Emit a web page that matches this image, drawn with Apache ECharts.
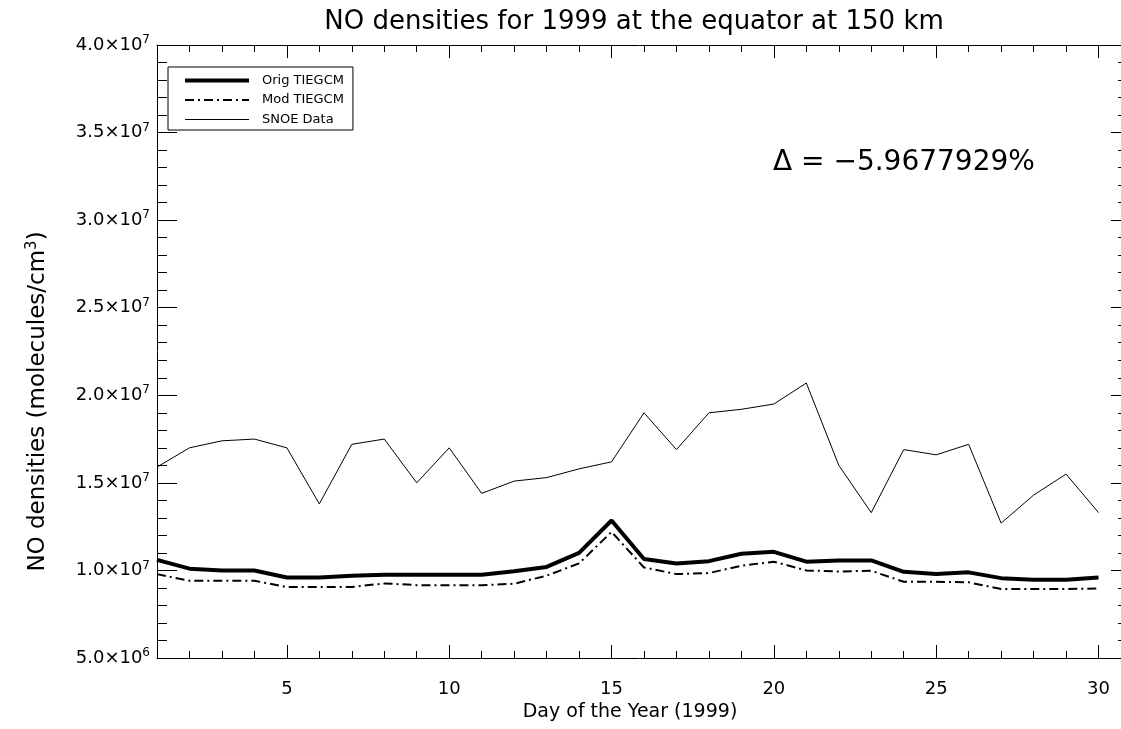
<!DOCTYPE html>
<html lang="en">
<head>
    <meta charset="UTF-8">
    <script src="https://cdn.jsdelivr.net/npm/echarts@6/dist/echarts.min.js"></script>
    <title>NO densities 1999</title>
    <style>
        html, body { margin: 0; padding: 0; background: #fff; }
        #main { width: 1121px; height: 729px; }
    </style>
</head>
<body>
<div id="main"></div>
<script type="text/javascript">
    // days of the year 1999
    var days = [1, 2, 3, 4, 5, 6, 7, 8, 9, 10, 11, 12, 13, 14, 15,
        16, 17, 18, 19, 20, 21, 22, 23, 24, 25, 26, 27, 28, 29, 30];
    // NO densities, molecules/cm^3
    var origTiegcm = [1.06e7, 1.01e7, 1.00e7, 1.00e7, 9.6e6, 9.6e6, 9.7e6, 9.75e6, 9.75e6, 9.75e6,
        9.75e6, 9.95e6, 1.02e7, 1.10e7, 1.285e7, 1.065e7, 1.04e7, 1.053e7, 1.095e7, 1.106e7,
        1.05e7, 1.057e7, 1.057e7, 9.92e6, 9.79e6, 9.89e6, 9.56e6, 9.47e6, 9.47e6, 9.6e6];
    var modTiegcm = [9.79e6, 9.41e6, 9.41e6, 9.41e6, 9.05e6, 9.05e6, 9.05e6, 9.26e6, 9.16e6, 9.16e6,
        9.16e6, 9.24e6, 9.7e6, 1.04e7, 1.22e7, 1.017e7, 9.79e6, 9.85e6, 1.027e7, 1.05e7,
        1.0e7, 9.94e6, 9.98e6, 9.35e6, 9.35e6, 9.32e6, 8.94e6, 8.94e6, 8.94e6, 8.97e6];
    var snoeData = [1.59e7, 1.70e7, 1.74e7, 1.75e7, 1.70e7, 1.38e7, 1.72e7, 1.75e7, 1.50e7, 1.70e7,
        1.44e7, 1.51e7, 1.53e7, 1.58e7, 1.62e7, 1.90e7, 1.69e7, 1.90e7, 1.92e7, 1.95e7,
        2.07e7, 1.60e7, 1.33e7, 1.69e7, 1.66e7, 1.72e7, 1.27e7, 1.43e7, 1.55e7, 1.33e7];
    var xLabelTicks = [5, 10, 15, 20, 25, 30];
    var seriesNames = ['Orig TIEGCM', 'Mod TIEGCM', 'SNOE Data'];

    var font = 'DejaVu Sans';

    function pairs(ys) {
        return days.map(function (d, i) { return [d, ys[i]]; });
    }

    function sciLabel(v) {
        var e = Math.floor(Math.log10(v) + 1e-9);
        var m = (v / Math.pow(10, e)).toFixed(1);
        return '{m|' + m + '×10}{e|' + e + '}';
    }

    var myChart = echarts.init(document.getElementById('main'), null, {renderer: 'canvas'});

    // plot frame runs past the right edge of the picture
    var gridBox = {left: 157, top: 45, width: 974, bottom: 71, outerBoundsMode: 'none', containLabel: false};
    var xMin = 1, xMax = 31;

    var option = {
        animation: false,
        backgroundColor: '#fff',
        title: {
            text: 'NO densities for 1999 at the equator at 150 km',
            left: 629,
            textAlign: 'center',
            top: 4,
            textStyle: {fontFamily: font, fontSize: 26, fontWeight: 'normal', color: '#000'}
        },
        legend: {
            data: seriesNames,
            orient: 'vertical',
            left: 168,
            top: 67,
            itemWidth: 64,
            itemHeight: 14,
            itemGap: 6.5,
            padding: [7, 9, 4, 15],
            borderColor: '#000',
            borderWidth: 1,
            itemStyle: {opacity: 0},
            lineStyle: {width: 'inherit'},
            textStyle: {fontFamily: font, fontSize: 13, color: '#000', padding: [0, 0, 0, 8]}
        },
        graphic: [{
            type: 'text',
            left: 773,
            top: 149,
            style: {text: 'Δ = −5.9677929%', font: '28px "DejaVu Sans"', fill: '#000'}
        }],
        grid: [
            Object.assign({}, gridBox),
            Object.assign({}, gridBox)
        ],
        xAxis: [{
            // bottom, major ticks and labels
            type: 'value', gridIndex: 0, position: 'bottom', min: xMin, max: xMax,
            name: 'Day of the Year (1999)', nameLocation: 'middle', nameGap: 44,
            nameTextStyle: {fontFamily: font, fontSize: 19, color: '#000', padding: [0, 28, 0, 0]},
            axisLine: {lineStyle: {color: '#000', width: 1}},
            axisTick: {inside: true, length: 13, customValues: xLabelTicks, lineStyle: {color: '#000'}},
            axisLabel: {customValues: xLabelTicks, margin: 22, fontFamily: font, fontSize: 18, color: '#000'},
            splitLine: {show: false}
        }, {
            type: 'value', gridIndex: 0, position: 'top', min: xMin, max: xMax,
            axisLine: {lineStyle: {color: '#000', width: 1}},
            axisTick: {inside: true, length: 13, customValues: xLabelTicks, lineStyle: {color: '#000'}},
            axisLabel: {show: false},
            splitLine: {show: false}
        }, {
            // minor day ticks
            type: 'value', gridIndex: 1, position: 'bottom', min: xMin, max: xMax, interval: 1,
            axisLine: {show: false},
            axisTick: {inside: true, length: 7, lineStyle: {color: '#000'}},
            axisLabel: {show: false},
            splitLine: {show: false}
        }, {
            type: 'value', gridIndex: 1, position: 'top', min: xMin, max: xMax, interval: 1,
            axisLine: {show: false},
            axisTick: {inside: true, length: 7, lineStyle: {color: '#000'}},
            axisLabel: {show: false},
            splitLine: {show: false}
        }],
        yAxis: [{
            type: 'value', gridIndex: 0, position: 'left', min: 5e6, max: 4e7, interval: 5e6,
            name: '{n|NO densities (molecules/cm}{s|3}{n|)}',
            nameLocation: 'middle', nameRotate: 90, nameGap: 105,
            nameTextStyle: {
                padding: [0, 100, 0, 0],
                rich: {
                    n: {fontFamily: font, fontSize: 23, color: '#000'},
                    s: {fontFamily: font, fontSize: 15, color: '#000', verticalAlign: 'top', padding: [0, 0, 12, 0]}
                }
            },
            axisLine: {lineStyle: {color: '#000', width: 1}},
            axisTick: {inside: true, length: 20, lineStyle: {color: '#000'}},
            minorTick: {show: true, splitNumber: 5, length: 10, lineStyle: {color: '#000'}},
            axisLabel: {
                margin: 7,
                formatter: sciLabel,
                rich: {
                    m: {fontFamily: font, fontSize: 18, color: '#000'},
                    e: {fontFamily: font, fontSize: 12, color: '#000', verticalAlign: 'top', padding: [0, 0, 10, 0]}
                }
            },
            splitLine: {show: false},
            minorSplitLine: {show: false}
        }, {
            type: 'value', gridIndex: 0, position: 'right', min: 5e6, max: 4e7, interval: 5e6,
            axisLine: {lineStyle: {color: '#000', width: 1}},
            axisTick: {inside: true, length: 20, lineStyle: {color: '#000'}},
            minorTick: {show: true, splitNumber: 5, length: 13, lineStyle: {color: '#000'}},
            axisLabel: {show: false},
            splitLine: {show: false}
        }, {
            type: 'value', gridIndex: 1, min: 5e6, max: 4e7, show: false
        }],
        series: [{
            name: seriesNames[0],
            type: 'line',
            xAxisIndex: 0, yAxisIndex: 0,
            data: pairs(origTiegcm),
            symbol: 'none',
            color: '#000',
            lineStyle: {color: '#000', width: 4}
        }, {
            name: seriesNames[1],
            type: 'line',
            xAxisIndex: 0, yAxisIndex: 0,
            data: pairs(modTiegcm),
            symbol: 'none',
            color: '#000',
            lineStyle: {color: '#000', width: 2, type: [9, 4, 2, 4]}
        }, {
            name: seriesNames[2],
            type: 'line',
            xAxisIndex: 0, yAxisIndex: 0,
            data: pairs(snoeData),
            symbol: 'none',
            color: '#000',
            lineStyle: {color: '#000', width: 1}
        }]
    };

    myChart.setOption(option);
</script>
</body>
</html>
